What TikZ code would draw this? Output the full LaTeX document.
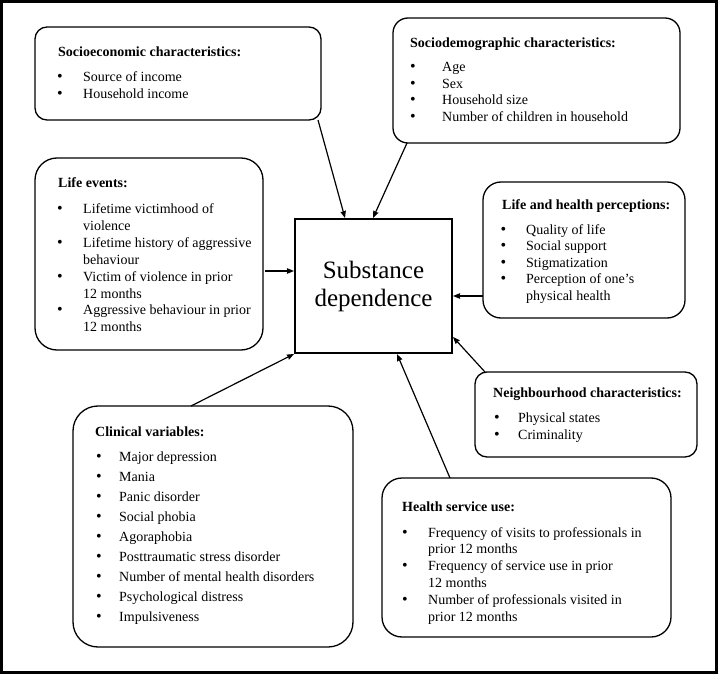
\documentclass[tikz,border=0pt]{standalone}
\usepackage{fontspec}
\setmainfont{Liberation Serif}
\usetikzlibrary{arrows.meta,calc}
\tikzset{
  box/.style={draw, rounded corners=#1, line width=1.3pt, inner sep=0pt, outer sep=0pt},
  ttl/.style={anchor=base west, inner sep=0pt, font=\fontsize{14}{16}\selectfont\bfseries},
  ln/.style={anchor=base west, inner sep=0pt, font=\fontsize{14}{16}\selectfont},
  bul/.style={anchor=base, inner sep=0pt, font=\fontsize{16}{16}\selectfont},
  arr/.style={line width=1.2pt, -{Stealth[length=7pt,width=5.5pt,inset=0.5pt]}}
}
\begin{document}
\begin{tikzpicture}[x=1pt,y=-1pt]
\useasboundingbox (0,0) rectangle (718,674);
\node[draw, line width=2.5pt, inner sep=0pt, outer sep=0pt, minimum width=715pt, minimum height=671pt] (frame) at (359,337) {};

% boxes
\node[box=12, minimum width=286pt, minimum height=93pt] (se) at (178,73.5) {};
\node[box=15, minimum width=287pt, minimum height=125pt] (sd) at (536.5,80.5) {};
\node[box=22, minimum width=228pt, minimum height=192pt] (le) at (149,254) {};
\node[box=18, minimum width=202pt, minimum height=136pt] (lh) at (584,250) {};
\node[box=12, minimum width=222pt, minimum height=85pt] (nb) at (586,414.5) {};
\node[box=20, minimum width=289pt, minimum height=159pt] (hs) at (526.5,557.5) {};
\node[box=25, minimum width=280pt, minimum height=241pt] (cv) at (213,526.5) {};
\node[draw, line width=2.5pt, inner sep=0pt, outer sep=0pt, minimum width=157pt, minimum height=134pt,
      align=center, font=\fontsize{25}{28}\selectfont] (c) at (373.5,286) {Substance\\dependence};

% Socioeconomic
\node[ttl] (set) at (58,57) {Socioeconomic characteristics:};
\node[bul] (seb1) at (60,82) {•}; \node[ln] (se1) at (83,82) {Source of income};
\node[bul] (seb2) at (60,99) {•}; \node[ln] (se2) at (83,99) {Household income};

% Sociodemographic
\node[ttl] (sdt) at (410,48) {Sociodemographic characteristics:};
\node[bul] (sdb1) at (413,72) {•}; \node[ln] (sd1) at (442,72) {Age};
\node[bul] (sdb2) at (413,88.5) {•}; \node[ln] (sd2) at (442,88.5) {Sex};
\node[bul] (sdb3) at (413,105) {•}; \node[ln] (sd3) at (442,105) {Household size};
\node[bul] (sdb4) at (413,121.5) {•}; \node[ln] (sd4) at (442,121.5) {Number of children in household};

% Life events
\node[ttl] (let) at (58,188) {Life events:};
\node[bul] (leb1) at (60,214) {•}; \node[ln] (le1) at (83,214) {Lifetime victimhood of};
\node[ln] (le2) at (83,230.8) {violence};
\node[bul] (leb3) at (60,247.6) {•}; \node[ln] (le3) at (83,247.6) {Lifetime history of aggressive};
\node[ln] (le4) at (83,264.4) {behaviour};
\node[bul] (leb5) at (60,281.2) {•}; \node[ln] (le5) at (83,281.2) {Victim of violence in prior};
\node[ln] (le6) at (83,298) {12 months};
\node[bul] (leb7) at (60,314.8) {•}; \node[ln] (le7) at (83,314.8) {Aggressive behaviour in prior};
\node[ln] (le8) at (83,331.6) {12 months};

% Life and health perceptions
\node[ttl] (lht) at (502,210) {Life and health perceptions:};
\node[bul] (lhb1) at (503.5,234) {•}; \node[ln] (lh1) at (526,234) {Quality of life};
\node[bul] (lhb2) at (503.5,250.5) {•}; \node[ln] (lh2) at (526,250.5) {Social support};
\node[bul] (lhb3) at (503.5,267) {•}; \node[ln] (lh3) at (526,267) {Stigmatization};
\node[bul] (lhb4) at (503.5,283.5) {•}; \node[ln] (lh4) at (526,283.5) {Perception of one’s};
\node[ln] (lh5) at (526,300) {physical health};

% Neighbourhood
\node[ttl] (nbt) at (493,397) {Neighbourhood characteristics:};
\node[bul] (nbb1) at (497,422) {•}; \node[ln] (nb1) at (518,422) {Physical states};
\node[bul] (nbb2) at (497,439) {•}; \node[ln] (nb2) at (518,439) {Criminality};

% Health service use
\node[ttl] (hst) at (402,511) {Health service use:};
\node[bul] (hsb1) at (405,537) {•}; \node[ln] (hs1) at (428,537) {Frequency of visits to professionals in};
\node[ln] (hs2) at (428,553.8) {prior 12 months};
\node[bul] (hsb3) at (405,570.6) {•}; \node[ln] (hs3) at (428,570.6) {Frequency of service use in prior};
\node[ln] (hs4) at (428,587.4) {12 months};
\node[bul] (hsb5) at (405,604.2) {•}; \node[ln] (hs5) at (428,604.2) {Number of professionals visited in};
\node[ln] (hs6) at (428,621) {prior 12 months};

% Clinical variables
\node[ttl] (cvt) at (95,436) {Clinical variables:};
\foreach \t [count=\i from 0] in {Major depression,Mania,Panic disorder,Social phobia,Agoraphobia,Posttraumatic stress disorder,Number of mental health disorders,Psychological distress,Impulsiveness}{
  \node[bul] (cvb\i) at (99,461+20*\i) {•};
  \node[ln] (cv\i) at (119,461+20*\i) {\t};
}

% arrows
\draw[arr] ($(se.south east)+(-3,0)$) -- ($(c.north west)+(50,-1)$);
\draw[arr] ($(sd.south west)+(14,0)$) -- ($(c.north west)+(78,-1)$);
\draw[arr] ($(le.east)+(2,17)$) -- ($(c.west)+(-1,-15)$);
\draw[arr] ($(lh.west)+(0,46)$) -- ($(c.east)+(1,10)$);
\draw[arr] ($(nb.north west)+(10,0)$) -- ($(c.south east)+(1,-16)$);
\draw[arr] ($(hs.north west)+(68,0)$) -- ($(c.south)+(23.5,1)$);
\draw[arr] ($(cv.north)+(-22,0)$) -- ($(c.south west)+(-1,1)$);
\end{tikzpicture}
\end{document}
